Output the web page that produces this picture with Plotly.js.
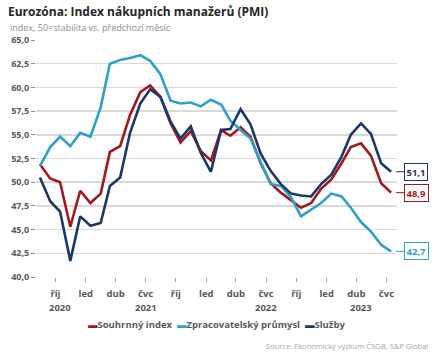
<!DOCTYPE html>
<html>
<head>
<meta charset="utf-8">
<script src="https://cdn.plot.ly/plotly-3.0.1.min.js"></script>
<style>html,body{margin:0;padding:0;background:#fff;}#chart{width:440px;height:360px;}</style>
</head>
<body>
<div id="chart"></div>
<script>
// Months Aug 2020 .. Jul 2023 (mid-month points)
const months = ['2020-08-15','2020-09-15','2020-10-15','2020-11-15','2020-12-15',
  '2021-01-15','2021-02-15','2021-03-15','2021-04-15','2021-05-15','2021-06-15','2021-07-15','2021-08-15','2021-09-15','2021-10-15','2021-11-15','2021-12-15',
  '2022-01-15','2022-02-15','2022-03-15','2022-04-15','2022-05-15','2022-06-15','2022-07-15','2022-08-15','2022-09-15','2022-10-15','2022-11-15','2022-12-15',
  '2023-01-15','2023-02-15','2023-03-15','2023-04-15','2023-05-15','2023-06-15','2023-07-15'];
const composite = [51.9,50.4,50.0,45.3,49.1,47.8,48.8,53.2,53.8,57.1,59.5,60.2,59.0,56.2,54.2,55.4,53.3,52.3,55.5,54.9,55.8,54.8,52.0,49.9,48.9,48.1,47.3,47.8,49.3,50.3,52.0,53.7,54.1,52.8,49.9,48.9];
const manufacturing = [51.7,53.7,54.8,53.8,55.2,54.8,57.9,62.5,62.9,63.1,63.4,62.8,61.4,58.6,58.3,58.4,58.0,58.7,58.2,56.5,55.5,54.6,52.1,49.8,49.6,48.4,46.4,47.1,47.8,48.8,48.5,47.3,45.8,44.8,43.4,42.7];
const services = [50.5,48.0,46.9,41.7,46.4,45.4,45.7,49.6,50.5,55.2,58.3,59.8,59.0,56.4,54.6,55.9,53.1,51.1,55.5,55.6,57.7,56.1,53.0,51.2,49.8,48.8,48.6,48.5,49.8,50.8,52.7,55.0,56.2,55.1,52.0,51.1];
const seriesNames = ['Souhrnný index','Zpracovatelský průmysl','Služby'];
const tickVals = ['2020-10-01','2021-01-01','2021-04-01','2021-07-01','2021-10-01','2022-01-01','2022-04-01','2022-07-01','2022-10-01','2023-01-01','2023-04-01','2023-07-01'];
const tickText = ['říj','led','dub','čvc','říj','led','dub','čvc','říj','led','dub','čvc'];
const yearLabels = ['2020','2021','2022','2023'];
const yearPos = ['2020-10-15','2021-07-01','2022-07-01','2023-04-15'];

const colors = ['#A3181D','#2E9FCF','#1B3866'];
const FONT = 'Open Sans, Noto Sans, sans-serif';
const gray = '#595959';

const series = [composite, manufacturing, services];
const traces = series.map((s,i)=>({
  type:'scatter', mode:'lines', x: months, y: s, name: seriesNames[i],
  line:{color:colors[i], width:2.6}, showlegend:false, hoverinfo:'skip'
}));

const annotations = [];
// subtitle
annotations.push({xref:'paper', yref:'paper', x:-28/361, y:(277-27)/237, xanchor:'left', yanchor:'middle',
  text:'index, 50=stabilita vs. předchozí měsíc', showarrow:false, font:{family:FONT, size:9, color:'#8c8c8c'}});
// year labels
yearLabels.forEach((t,i)=>annotations.push({xref:'x', yref:'paper', x:yearPos[i], y:(277-307)/237, xanchor:'center', yanchor:'middle',
  text:t, showarrow:false, font:{family:FONT, size:9.5, color:gray, weight:'bold'}}));
// legend
annotations.push({xref:'paper', yref:'paper', x:0.5, y:(277-324)/237, xanchor:'center', yanchor:'middle', showarrow:false,
  text: seriesNames.map((n,i)=>`<span style="color:${colors[i]}">▬</span>${n}`).join('  '),
  font:{family:FONT, size:9.5, color:gray, weight:'bold'}});
// source
annotations.push({xref:'paper', yref:'paper', x:(430-36)/361, y:(277-346)/237, xanchor:'right', yanchor:'middle', showarrow:false,
  text:'Source: Ekonomický výzkum ČSOB, S&P Global', font:{family:FONT, size:7.5, color:'#a6a6a6'}});
// end callouts
const fmt = v => v.toFixed(1).replace('.', ',');
[services, composite, manufacturing].forEach((s,k)=>{
  const i = [2,0,1][k];
  annotations.push({xref:'x', yref:'y', x: months[months.length-1], y: s[s.length-1],
    text: fmt(s[s.length-1]), showarrow:true, arrowhead:0, arrowwidth:1, arrowcolor:colors[i], standoff:5,
    ax:25, ay:0, bordercolor:colors[i], borderwidth:1, borderpad:1.5, bgcolor:'#fff',
    font:{family:FONT, size:9.5, color:colors[i], weight:'bold'}});
});

const layout = {
  width:440, height:360, margin:{l:36, r:43, t:40, b:83},
  paper_bgcolor:'#fff', plot_bgcolor:'#fff', separators:',.',
  title:{text:'Eurozóna: Index nákupních manažerů (PMI)', xref:'container', yref:'container', x:8/440, xanchor:'left', y:1-12/360, yanchor:'middle',
    font:{family:FONT, size:12, color:'#262626', weight:'bold'}},
  xaxis:{type:'date', range:['2020-08-03','2023-08-02'], tickmode:'array', tickvals:tickVals, ticktext:tickText,
    ticks:'outside', ticklen:4, tickcolor:'#a6a6a6', showgrid:false, showline:false, zeroline:false,
    ticklabelstandoff:4, tickfont:{family:FONT, size:9.5, color:gray, weight:'bold'}},
  yaxis:{range:[40,65], tick0:40, dtick:2.5, tickformat:'.1f', ticks:'outside', ticklen:4, tickcolor:'#8c8c8c',
    showgrid:true, gridcolor:'#d9d9d9', gridwidth:1.5, zeroline:false, showline:false,
    tickfont:{family:FONT, size:9, color:gray, weight:'bold'}},
  shapes:[
    {type:'line', xref:'paper', yref:'y', x0:0, x1:1, y0:50, y1:50, layer:'between', line:{color:'#fff', width:2}},
    {type:'line', xref:'paper', yref:'y', x0:0, x1:1, y0:50, y1:50, layer:'between', line:{color:'#9a9a9a', width:1, dash:'3px,2px'}}
  ],
  annotations: annotations
};
Plotly.newPlot('chart', traces, layout, {staticPlot:true, displayModeBar:false});
</script>
</body>
</html>
